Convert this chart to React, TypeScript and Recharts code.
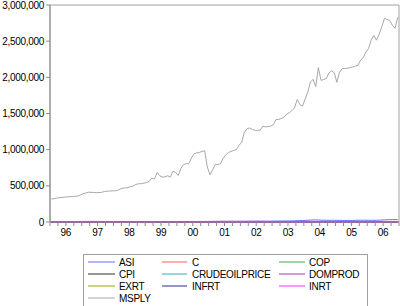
import React from 'react';
import { LineChart, Line, XAxis, YAxis, ReferenceArea } from 'recharts';

// Monthly observations 1996M01 .. 2006M12 (132 points)
const YEARS = ['96', '97', '98', '99', '00', '01', '02', '03', '04', '05', '06'];

const MSPLY = [
  318000, 322000, 330000, 336000, 340000, 343000, 348000, 350000, 352000, 356000, 360000, 372000,
  392000, 400000, 412000, 410000, 408000, 405000, 407000, 410000, 420000, 426000, 428000, 430000,
  432000, 435000, 455000, 468000, 470000, 476000, 488000, 495000, 520000, 528000, 530000, 537000,
  545000, 560000, 607000, 593000, 685000, 640000, 621000, 625000, 639000, 621000, 699000, 685000,
  643000, 740000, 795000, 806000, 806000, 885000, 944000, 955000, 962000, 975000, 985000, 760000,
  653000, 720000, 792000, 796000, 806000, 880000, 931000, 960000, 976000, 990000, 1000000, 1060000,
  1100000, 1240000, 1287000, 1301000, 1278000, 1268000, 1266000, 1270000, 1324000, 1315000, 1320000, 1326000,
  1347000, 1417000, 1417000, 1430000, 1449000, 1490000, 1510000, 1540000, 1579000, 1694000, 1625000, 1601000,
  1700000, 1796000, 1935000, 1972000, 1871000, 2135000, 1958000, 1970000, 1982000, 2060000, 2090000, 2065000,
  1931000, 2070000, 2121000, 2122000, 2125000, 2135000, 2143000, 2155000, 2167000, 2240000, 2274000, 2350000,
  2400000, 2520000, 2579000, 2514000, 2597000, 2700000, 2815000, 2800000, 2785000, 2720000, 2676000, 2829000,
];

const ASI = [
  5135, 5280, 5450, 5700, 5950, 6200, 6350, 6450, 6600, 6750, 6850, 6992,
  7300, 7800, 8300, 8600, 8500, 8200, 7900, 7600, 7200, 6900, 6600, 6440,
  6400, 6300, 6200, 6100, 6000, 5900, 5800, 5750, 5700, 5690, 5680, 5672,
  5500, 5400, 5300, 5200, 5250, 5100, 5050, 5100, 5150, 5200, 5230, 5266,
  5750, 6000, 6300, 6600, 6900, 7100, 7300, 7500, 7700, 7900, 8000, 8111,
  8800, 9200, 9500, 9900, 10200, 10500, 10600, 10700, 10800, 10900, 10950, 10963,
  11000, 11200, 11600, 12000, 12300, 12500, 12700, 12900, 12600, 12200, 12100, 12137,
  12900, 13400, 13600, 13800, 14000, 14500, 15000, 15500, 16500, 18000, 19500, 20128,
  22500, 24000, 27000, 28500, 29000, 27000, 25500, 24000, 23500, 23000, 23500, 23844,
  23000, 22500, 21500, 21000, 21500, 21800, 22000, 23000, 24000, 24500, 24200, 24085,
  23900, 23500, 23200, 24000, 25000, 27000, 29000, 31000, 32000, 32500, 33000, 33189,
];

const C = [
  175, 172, 170, 168, 170, 172, 174, 176, 178, 180, 182, 190,
  185, 182, 180, 182, 184, 186, 188, 190, 192, 195, 198, 206,
  200, 198, 196, 198, 200, 204, 208, 212, 216, 220, 224, 232,
  228, 226, 230, 236, 240, 245, 250, 255, 260, 268, 275, 290,
  285, 290, 300, 310, 320, 330, 340, 350, 360, 370, 380, 400,
  390, 395, 400, 410, 420, 430, 440, 450, 460, 480, 500, 520,
  510, 505, 500, 505, 510, 515, 520, 525, 530, 540, 550, 560,
  555, 550, 548, 552, 560, 565, 570, 580, 590, 600, 610, 630,
  620, 615, 612, 618, 625, 630, 640, 650, 660, 670, 680, 700,
  690, 685, 680, 685, 690, 700, 710, 720, 730, 740, 750, 770,
  760, 755, 750, 760, 770, 780, 790, 800, 810, 820, 840, 860,
];

const COP = [
  2.0, 2.0, 2.0, 2.1, 2.1, 2.1, 2.1, 2.1, 2.1, 2.2, 2.2, 2.2,
  2.2, 2.2, 2.2, 2.2, 2.2, 2.3, 2.3, 2.3, 2.3, 2.3, 2.3, 2.3,
  2.2, 2.2, 2.2, 2.1, 2.1, 2.1, 2.1, 2.1, 2.0, 2.0, 2.0, 2.0,
  2.0, 2.0, 1.9, 1.9, 1.9, 1.9, 2.0, 2.0, 2.0, 2.1, 2.1, 2.1,
  2.1, 2.1, 2.2, 2.2, 2.2, 2.2, 2.2, 2.2, 2.2, 2.2, 2.2, 2.2,
  2.2, 2.2, 2.3, 2.3, 2.3, 2.3, 2.2, 2.2, 2.2, 2.2, 2.1, 2.1,
  2.0, 2.0, 2.0, 2.0, 2.0, 2.0, 2.1, 2.1, 2.1, 2.1, 2.2, 2.2,
  2.2, 2.3, 2.3, 2.2, 2.2, 2.2, 2.3, 2.3, 2.3, 2.3, 2.4, 2.4,
  2.4, 2.4, 2.4, 2.4, 2.4, 2.5, 2.5, 2.5, 2.5, 2.5, 2.5, 2.5,
  2.5, 2.5, 2.5, 2.5, 2.6, 2.6, 2.6, 2.6, 2.6, 2.6, 2.6, 2.6,
  2.5, 2.4, 2.3, 2.3, 2.2, 2.2, 2.2, 2.3, 2.3, 2.3, 2.3, 2.3,
];

const CPI = [
  60, 61, 62, 63, 64, 65, 65, 66, 66, 67, 67, 68,
  68, 69, 69, 70, 71, 72, 72, 73, 73, 74, 74, 75,
  75, 76, 77, 78, 79, 80, 80, 81, 81, 82, 82, 83,
  83, 84, 84, 85, 85, 86, 86, 87, 87, 88, 88, 89,
  89, 90, 91, 92, 93, 94, 95, 96, 97, 98, 99, 100,
  101, 103, 105, 107, 109, 111, 113, 115, 117, 118, 119, 120,
  121, 122, 124, 126, 128, 130, 131, 132, 133, 134, 135, 136,
  137, 139, 141, 143, 145, 147, 149, 151, 153, 155, 157, 159,
  160, 162, 164, 166, 168, 170, 172, 174, 176, 178, 180, 182,
  184, 186, 188, 190, 192, 194, 196, 198, 200, 202, 204, 206,
  207, 208, 209, 210, 211, 212, 213, 214, 215, 216, 217, 218,
];

const CRUDEOILPRICE = [
  19, 19, 20, 21, 20, 19, 20, 21, 23, 24, 23, 24,
  24, 21, 20, 19, 20, 19, 19, 19, 20, 21, 20, 18,
  16, 15, 14, 14, 14, 12, 12, 12, 13, 13, 11, 10,
  11, 11, 13, 16, 16, 17, 19, 21, 23, 23, 25, 26,
  26, 29, 28, 23, 28, 30, 29, 31, 33, 32, 33, 25,
  25, 27, 25, 26, 28, 27, 25, 26, 26, 21, 19, 19,
  20, 20, 24, 26, 26, 25, 26, 27, 29, 28, 25, 28,
  31, 33, 30, 25, 26, 28, 29, 30, 27, 29, 29, 30,
  31, 31, 34, 34, 38, 36, 38, 43, 43, 50, 43, 40,
  44, 46, 53, 52, 49, 54, 57, 64, 63, 59, 55, 57,
  63, 60, 62, 70, 70, 70, 74, 73, 63, 59, 59, 63,
];

const DOMPROD = [
  130, 131, 132, 132, 133, 133, 134, 134, 135, 135, 136, 136,
  137, 137, 138, 138, 139, 139, 140, 140, 141, 141, 142, 142,
  142, 141, 141, 140, 140, 140, 139, 139, 139, 138, 138, 138,
  139, 139, 140, 140, 141, 141, 142, 142, 143, 143, 144, 144,
  145, 146, 147, 148, 149, 150, 151, 152, 153, 154, 155, 156,
  157, 158, 159, 160, 160, 161, 161, 162, 162, 163, 163, 164,
  165, 166, 167, 168, 169, 170, 171, 172, 173, 174, 175, 176,
  178, 180, 182, 184, 186, 188, 190, 192, 194, 196, 198, 200,
  202, 204, 206, 208, 210, 212, 214, 216, 218, 220, 222, 224,
  226, 228, 230, 232, 234, 236, 238, 240, 242, 244, 246, 248,
  250, 252, 254, 256, 258, 260, 262, 264, 266, 268, 270, 272,
];

const EXRT = [
  21.9, 21.9, 21.9, 21.9, 21.9, 21.9, 21.9, 21.9, 21.9, 21.9, 21.9, 21.9,
  21.9, 21.9, 21.9, 21.9, 21.9, 21.9, 21.9, 21.9, 21.9, 21.9, 21.9, 21.9,
  21.9, 21.9, 21.9, 21.9, 21.9, 21.9, 21.9, 21.9, 21.9, 21.9, 21.9, 21.9,
  86.6, 87.5, 88.3, 90.1, 91.8, 93.2, 94.0, 94.6, 95.3, 96.2, 97.1, 97.9,
  99.6, 100.2, 101.0, 101.7, 102.2, 102.8, 103.3, 103.9, 104.5, 105.3, 106.6, 107.6,
  110.6, 111.3, 112.1, 112.6, 112.9, 113.1, 113.4, 113.6, 113.8, 113.9, 114.0, 114.2,
  114.5, 115.2, 116.6, 117.9, 118.6, 119.3, 120.5, 121.6, 122.4, 123.6, 125.7, 126.7,
  127.5, 128.3, 128.8, 129.3, 129.7, 130.1, 130.6, 131.2, 132.1, 133.0, 134.5, 136.5,
  136.6, 136.4, 136.1, 135.8, 135.4, 135.0, 134.8, 134.5, 134.3, 134.0, 133.5, 133.0,
  132.9, 132.8, 132.7, 132.6, 132.5, 132.4, 132.2, 132.0, 131.6, 131.2, 130.8, 130.3,
  130.1, 129.6, 129.3, 129.0, 128.8, 128.6, 128.5, 128.4, 128.3, 128.2, 128.1, 128.0,
];

const INFRT = [
  33, 31, 30, 29, 27, 25, 24, 23, 22, 21, 20, 14,
  12, 11, 10, 10, 9, 9, 8, 8, 9, 9, 9, 10,
  10, 10, 10, 10, 11, 11, 11, 12, 12, 12, 12, 13,
  12, 11, 10, 9, 8, 7, 6, 5, 5, 6, 6, 7,
  8, 7, 6, 5, 4, 5, 6, 7, 9, 10, 12, 14,
  15, 16, 17, 18, 19, 20, 21, 22, 22, 21, 20, 19,
  18, 17, 16, 15, 14, 13, 12, 12, 12, 12, 12, 12,
  12, 12, 13, 13, 14, 14, 15, 15, 16, 17, 18, 18,
  18, 18, 17, 17, 16, 16, 15, 15, 14, 14, 13, 13,
  14, 15, 16, 17, 18, 18, 17, 16, 14, 13, 12, 11,
  10, 10, 9, 9, 8, 8, 8, 8, 8, 8, 8, 8,
];

const INRT = [
  13.5, 13.5, 13.5, 13.5, 13.5, 13.5, 13.5, 13.5, 13.5, 13.5, 13.5, 13.5,
  13.5, 13.5, 13.5, 13.5, 13.5, 13.5, 13.5, 13.5, 13.5, 13.5, 13.5, 13.5,
  14.3, 14.3, 14.3, 14.3, 14.3, 14.3, 14.3, 14.3, 14.3, 14.3, 14.3, 14.3,
  18.0, 18.0, 18.0, 18.0, 18.0, 18.0, 18.0, 18.0, 18.0, 18.0, 18.0, 18.0,
  14.0, 14.0, 14.0, 14.0, 14.0, 14.0, 14.0, 14.0, 14.0, 14.0, 14.0, 14.0,
  20.5, 20.5, 20.5, 20.5, 20.5, 20.5, 20.5, 20.5, 20.5, 20.5, 20.5, 20.5,
  16.5, 16.5, 16.5, 16.5, 16.5, 16.5, 16.5, 16.5, 16.5, 16.5, 16.5, 16.5,
  15.0, 15.0, 15.0, 15.0, 15.0, 15.0, 15.0, 15.0, 15.0, 15.0, 15.0, 15.0,
  15.0, 15.0, 15.0, 15.0, 15.0, 15.0, 15.0, 15.0, 15.0, 15.0, 15.0, 15.0,
  13.0, 13.0, 13.0, 13.0, 13.0, 13.0, 13.0, 13.0, 13.0, 13.0, 13.0, 13.0,
  12.3, 12.3, 12.3, 12.3, 12.3, 12.3, 12.3, 12.3, 12.3, 12.3, 12.3, 10.0,
];

const SERIES_NAMES = ['ASI', 'C', 'COP', 'CPI', 'CRUDEOILPRICE', 'DOMPROD', 'EXRT', 'INFRT', 'INRT', 'MSPLY'];
const SERIES_VALUES: number[][] = [ASI, C, COP, CPI, CRUDEOILPRICE, DOMPROD, EXRT, INFRT, INRT, MSPLY];
const SERIES_COLORS = ['#6a6aff', '#ff5a5a', '#40a840', '#303030', '#30b0b0', '#b030b0', '#a0a000', '#2a2a9a', '#ff30ff', '#a8a8a8'];

const Y_TICKS = [0, 500000, 1000000, 1500000, 2000000, 2500000, 3000000];
const X_TICKS = Array.from({ length: 45 }, (_, k) => k * 3);

const data = MSPLY.map((_, i) => {
  const row: Record<string, number> = { t: i + 0.5 };
  SERIES_NAMES.forEach((name, s) => {
    row[name] = SERIES_VALUES[s][i];
  });
  return row;
});

const FONT = '"Liberation Sans", Arial, sans-serif';
const AXIS_GRAY = '#8c8c8c';

const fmtY = (v: number) => v.toLocaleString('en-US');
const fmtX = (v: number) => (v % 12 === 6 ? YEARS[(v - 6) / 12] : '');

// legend layout: 3 columns, filled row by row
const LEG_COLS = [
  { lx1: 5, lx2: 32, tx: 36 },
  { lx1: 79, lx2: 104, tx: 109 },
  { lx1: 196, lx2: 222, tx: 226 },
];

function LegendBox() {
  return (
    <svg
      width={286}
      height={60}
      style={{ position: 'absolute', left: 83, top: 254, overflow: 'visible' }}
    >
      <rect x={0.5} y={0.5} width={284} height={70} fill="#fff" stroke="#a0a0a0" />
      {SERIES_NAMES.map((name, i) => {
        const col = LEG_COLS[i % 3];
        const row = Math.floor(i / 3);
        const cy = 8 + row * 12;
        return (
          <g key={name}>
            <line x1={col.lx1} x2={col.lx2} y1={cy} y2={cy} stroke={SERIES_COLORS[i]} strokeWidth={1} />
            <text
              x={col.tx}
              y={cy + 3.6}
              fontFamily={FONT}
              fontSize={10}
              letterSpacing={-0.3}
              fill="#000"
            >
              {name}
            </text>
          </g>
        );
      })}
    </svg>
  );
}

export default function App() {
  return (
    <div
      style={{
        position: 'absolute',
        left: 0,
        top: 0,
        width: 400,
        height: 306,
        overflow: 'hidden',
        background: '#fff',
      }}
    >
      <LineChart
        width={400}
        height={306}
        data={data}
        margin={{ top: 5, right: 1, bottom: 0, left: 0 }}
      >
        <XAxis
          dataKey="t"
          type="number"
          domain={[0, 132]}
          ticks={X_TICKS}
          interval={0}
          tickFormatter={fmtX}
          height={84}
          tickSize={4}
          tickMargin={3}
          stroke={AXIS_GRAY}
          tick={{ fill: '#000', fontSize: 10, fontFamily: FONT, letterSpacing: -0.3 }}
        />
        <YAxis
          type="number"
          domain={[0, 3000000]}
          ticks={Y_TICKS}
          interval={0}
          tickFormatter={fmtY}
          width={50}
          tickSize={4}
          tickMargin={2}
          stroke={AXIS_GRAY}
          tick={{ fill: '#000', fontSize: 10, fontFamily: FONT, letterSpacing: -0.3 }}
        />
        <ReferenceArea
          x1={0}
          x2={132}
          y1={0}
          y2={3000000}
          fill="none"
          fillOpacity={0}
          stroke="#a0a0a0"
          strokeWidth={1}
        />
        {SERIES_NAMES.map((name, i) => (
          <Line
            key={name}
            dataKey={name}
            type="linear"
            stroke={SERIES_COLORS[i]}
            strokeWidth={1}
            dot={false}
            activeDot={false}
            isAnimationActive={false}
          />
        ))}
      </LineChart>
      <LegendBox />
    </div>
  );
}
